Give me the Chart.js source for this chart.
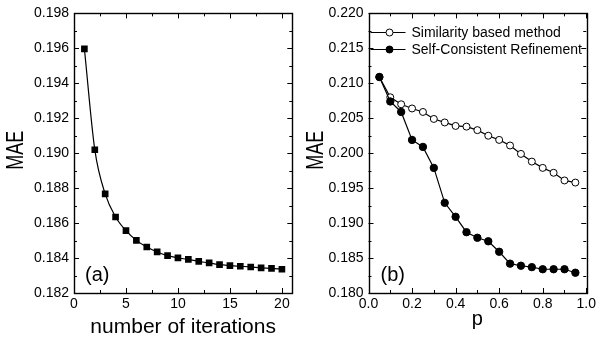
<!DOCTYPE html>
<html>
<head>
<meta charset="utf-8">
<script src="https://cdn.jsdelivr.net/npm/chart.js@4.4.0/dist/chart.umd.min.js"></script>
<style>
  body { margin: 0; background: #fff; width: 599px; height: 342px; position: relative; overflow: hidden; }
  canvas { position: absolute; top: 0; }
  #chartA { left: 0; }
  #chartB { left: 300px; }
</style>
</head>
<body>
<canvas id="chartA" width="300" height="342"></canvas>
<canvas id="chartB" width="299" height="342"></canvas>
<script>
// panel (a): MAE vs number of iterations
const iterations = [1, 2, 3, 4, 5, 6, 7, 8, 9, 10, 11, 12, 13, 14, 15, 16, 17, 18, 19, 20];
const maeIter = [
  0.19597, 0.1902, 0.18767, 0.18635, 0.18557, 0.18501, 0.18463, 0.18435, 0.18414, 0.18401,
  0.18392, 0.18381, 0.18372, 0.18362, 0.18357, 0.18353, 0.18349, 0.18344, 0.18341, 0.18336,
];

// panel (b): MAE vs p
const pValues = [0.05, 0.1, 0.15, 0.2, 0.25, 0.3, 0.35, 0.4, 0.45, 0.5, 0.55, 0.6, 0.65, 0.7, 0.75, 0.8, 0.85, 0.9, 0.95];
const maeSimilarity = [
  0.2109, 0.208, 0.207, 0.2064, 0.2059, 0.2049, 0.2044, 0.2039, 0.2038, 0.2033,
  0.2025, 0.2019, 0.2011, 0.1999, 0.1988, 0.1979, 0.1972, 0.1961, 0.1958,
];
const maeRefinement = [
  0.2109, 0.2074, 0.2059, 0.2019, 0.2009, 0.1979, 0.1929, 0.1909, 0.1887, 0.1879,
  0.1874, 0.1859, 0.1842, 0.1839, 0.1837, 0.1834, 0.1834, 0.1834, 0.1829,
];
const seriesNames = ["Similarity based method", "Self-Consistent Refinement"];

// tick labels
const ticksIterX = [0, 5, 10, 15, 20];
const ticksIterY = [0.182, 0.184, 0.186, 0.188, 0.19, 0.192, 0.194, 0.196, 0.198];
const ticksPX = [0, 0.2, 0.4, 0.6, 0.8, 1.0];
const ticksPY = [0.18, 0.185, 0.19, 0.195, 0.2, 0.205, 0.21, 0.215, 0.22];

const FONT = "'Liberation Sans', Arial, sans-serif";
Chart.defaults.font.family = FONT;
Chart.defaults.font.size = 14;
Chart.defaults.color = "#000";

function xy(xs, ys) {
  return xs.map((x, i) => ({ x: x, y: ys[i] }));
}

// inward major/minor ticks on all four sides
function drawTicks(ctx, scale, area, horizontal) {
  const vals = scale.ticks.map((t) => t.value);
  const marks = [];
  vals.forEach((v, i) => {
    marks.push([v, 5]);
    if (i < vals.length - 1) marks.push([(v + vals[i + 1]) / 2, 3]);
  });
  ctx.beginPath();
  marks.forEach(([v, len]) => {
    const p = Math.round(scale.getPixelForValue(v)) + 0.5;
    if (horizontal) {
      ctx.moveTo(p, area.bottom); ctx.lineTo(p, area.bottom - len);
      ctx.moveTo(p, area.top); ctx.lineTo(p, area.top + len);
    } else {
      ctx.moveTo(area.left, p); ctx.lineTo(area.left + len, p);
      ctx.moveTo(area.right, p); ctx.lineTo(area.right - len, p);
    }
  });
  ctx.stroke();
}

const decor = {
  id: "decor",
  afterDraw(chart, args, opts) {
    const ctx = chart.ctx;
    const a = chart.chartArea;
    ctx.save();
    ctx.strokeStyle = "#000";
    ctx.fillStyle = "#000";
    ctx.lineWidth = 1.4;
    ctx.strokeRect(Math.round(a.left) + 0.5, Math.round(a.top) + 0.5,
      Math.round(a.right - a.left), Math.round(a.bottom - a.top));
    ctx.lineWidth = 1;
    drawTicks(ctx, chart.scales.x, a, true);
    drawTicks(ctx, chart.scales.y, a, false);

    // y title
    ctx.save();
    ctx.translate(16.7, (a.top + a.bottom) / 2 - 3);
    ctx.rotate(-Math.PI / 2);
    ctx.scale(0.75, 1);
    ctx.font = "24px " + FONT;
    ctx.textAlign = "center";
    ctx.textBaseline = "middle";
    ctx.fillText("MAE", 0, 0);
    ctx.restore();

    // x title
    ctx.font = opts.xTitleSize + "px " + FONT;
    ctx.textAlign = "center";
    ctx.textBaseline = "alphabetic";
    ctx.fillText(opts.xTitle, (a.left + a.right) / 2, opts.xTitleY);

    // panel label
    ctx.font = "20px " + FONT;
    ctx.textAlign = "left";
    ctx.fillText(opts.panel, a.left + opts.panelDx, 280.5);

    // legend
    if (opts.legend) {
      ctx.font = "14px " + FONT;
      ctx.textBaseline = "middle";
      chart.data.datasets.forEach((ds, i) => {
        const y = opts.legendY[i];
        ctx.beginPath();
        ctx.moveTo(a.left + 2, y);
        ctx.lineTo(a.left + 37, y);
        ctx.stroke();
        ctx.beginPath();
        ctx.arc(a.left + 21, y, 3.5, 0, Math.PI * 2);
        ctx.fillStyle = ds.pointBackgroundColor;
        ctx.fill();
        ctx.stroke();
        ctx.fillStyle = "#000";
        ctx.fillText(ds.label, a.left + 43, y + 0.5);
      });
    }
    ctx.restore();
  },
};

function axisY(ticks, min, max, width) {
  return {
    type: "linear",
    min: min,
    max: max,
    afterBuildTicks: (s) => { s.ticks = ticks.map((v) => ({ value: v })); },
    afterFit: (s) => { s.width = width; },
    grid: { display: false, drawTicks: false },
    border: { display: false },
    ticks: { padding: 5, callback: (v) => v.toFixed(3) },
  };
}

function axisX(ticks, min, max, digits) {
  return {
    type: "linear",
    min: min,
    max: max,
    afterBuildTicks: (s) => { s.ticks = ticks.map((v) => ({ value: v })); },
    afterFit: (s) => { s.height = 49; },
    grid: { display: false, drawTicks: false },
    border: { display: false },
    ticks: { padding: 3, maxRotation: 0, callback: (v) => v.toFixed(digits) },
  };
}

function chartA() {
  new Chart(document.getElementById("chartA"), {
    type: "line",
    data: {
      datasets: [
        {
          label: "MAE",
          data: xy(iterations, maeIter),
          borderColor: "#000",
          borderWidth: 1.2,
          cubicInterpolationMode: "monotone",
          pointStyle: "rect",
          pointRadius: 4.7,
          pointBackgroundColor: "#000",
          pointBorderColor: "#000",
          pointBorderWidth: 0,
        },
      ],
    },
    options: {
      responsive: false,
      animation: false,
      layout: { padding: { top: 7.5, right: 7.7, left: 0, bottom: 0 } },
      plugins: {
        legend: { display: false },
        tooltip: { enabled: false },
        decor: { xTitle: "number of iterations", xTitleSize: 21, xTitleY: 333, panel: "(a)", panelDx: 11, legend: false },
      },
      scales: {
        x: axisX(ticksIterX, 0, 21, 0),
        y: axisY(ticksIterY, 0.182, 0.198, 74),
      },
    },
    plugins: [decor],
  });
}

function chartB() {
  new Chart(document.getElementById("chartB"), {
    type: "line",
    data: {
      datasets: [
        {
          label: seriesNames[0],
          data: xy(pValues, maeSimilarity),
          borderColor: "#000",
          borderWidth: 1.2,
          pointRadius: 3.5,
          pointBackgroundColor: "#fff",
          pointBorderColor: "#000",
          pointBorderWidth: 1,
          order: 1,
        },
        {
          label: seriesNames[1],
          data: xy(pValues, maeRefinement),
          borderColor: "#000",
          borderWidth: 1.2,
          pointRadius: 3.7,
          pointBackgroundColor: "#000",
          pointBorderColor: "#000",
          pointBorderWidth: 1,
          order: 0,
        },
      ],
    },
    options: {
      responsive: false,
      animation: false,
      layout: { padding: { top: 7.5, right: 11.3, left: 0, bottom: 0 } },
      plugins: {
        legend: { display: false },
        tooltip: { enabled: false },
        decor: { xTitle: "p", xTitleSize: 20, xTitleY: 325, panel: "(b)", panelDx: 12, legend: true, legendY: [32.5, 49.5] },
      },
      scales: {
        x: axisX(ticksPX, 0, 1.0, 1),
        y: axisY(ticksPY, 0.18, 0.22, 68.5),
      },
    },
    plugins: [decor],
  });
}

document.addEventListener("readystatechange", (event) => {
  if (event.target.readyState === "complete") {
    chartA();
    chartB();
  }
});
</script>
</body>
</html>
